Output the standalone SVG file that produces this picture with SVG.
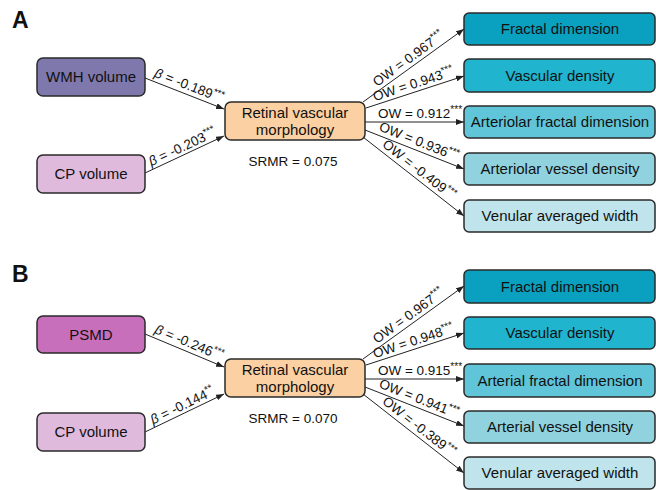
<svg xmlns="http://www.w3.org/2000/svg" width="656" height="490" viewBox="0 0 656 490">
<defs>
<marker id="arr" markerUnits="userSpaceOnUse" markerWidth="8" markerHeight="6" refX="8" refY="3" orient="auto">
<path d="M0,0 L8,3 L0,6 z" fill="#222"/>
</marker>
<style>
text{font-family:"Liberation Sans",Arial,sans-serif;fill:#111;}
.box{stroke:#2a2a2a;stroke-width:1.5;}
.lbl{font-size:15px;text-anchor:middle;}
.el{font-size:13.5px;text-anchor:middle;}
.st{font-size:10px;}
.pl{font-size:23px;font-weight:bold;}
.cn{stroke:#222;stroke-width:1;fill:none;marker-end:url(#arr);}
</style>
</defs>
<rect width="656" height="490" fill="#fff"/>

<g id="panelA">
<text class="pl" x="12" y="28">A</text>
<g id="A_conn">
<line class="cn" x1="145" y1="78" x2="224" y2="109"/>
<line class="cn" x1="145" y1="173" x2="224" y2="136"/>
<line class="cn" x1="363" y1="102" x2="464" y2="29"/>
<line class="cn" x1="366" y1="108" x2="464" y2="76"/>
<line class="cn" x1="365" y1="122" x2="464" y2="122"/>
<line class="cn" x1="365" y1="130" x2="464" y2="169"/>
<line class="cn" x1="363" y1="137" x2="464" y2="216"/>
<text class="el" transform="translate(186,93.5) rotate(21.4)" y="-4"><tspan font-style="italic">β</tspan> = -0.189<tspan class="st" dy="-5">***</tspan></text>
<text class="el" transform="translate(186,154.5) rotate(-25.1)" y="-4"><tspan font-style="italic">β</tspan> = -0.203<tspan class="st" dy="-5">***</tspan></text>
<text class="el" transform="translate(413.5,65.5) rotate(-35.9)" y="-4">OW = 0.967<tspan class="st" dy="-5">***</tspan></text>
<text class="el" transform="translate(416,92) rotate(-18.1)" y="-4">OW = 0.943<tspan class="st" dy="-5">***</tspan></text>
<text class="el" transform="translate(420,122)" y="-4">OW = 0.912<tspan class="st" dy="-5">***</tspan></text>
<text class="el" transform="translate(416,149.5) rotate(21.5)" y="-4">OW = 0.936<tspan class="st" dy="-5">***</tspan></text>
<text class="el" transform="translate(414,176.5) rotate(38)" y="-4">OW = -0.409<tspan class="st" dy="-5">***</tspan></text>
</g>
<g id="A_wmh"><rect class="box" x="37" y="58" width="108" height="38" rx="6" fill="#7f78ad"/><text class="lbl" x="91" y="82">WMH volume</text></g>
<g id="A_cp"><rect class="box" x="37" y="155" width="108" height="38" rx="6" fill="#dfbadd"/><text class="lbl" x="91" y="179">CP volume</text></g>
<g id="A_rvm"><rect class="box" x="225" y="102" width="140" height="38" rx="6" fill="#fbd0a2"/><text class="lbl" x="295" y="118">Retinal vascular</text><text class="lbl" x="295" y="135">morphology</text></g>
<text class="el" x="293" y="166">SRMR = 0.075</text>
<g id="A_fd"><rect class="box" x="464" y="13" width="191" height="32" rx="5" fill="#0aa0c0"/><text class="lbl" x="560" y="34">Fractal dimension</text></g>
<g id="A_vd"><rect class="box" x="464" y="59" width="191" height="33" rx="5" fill="#20b4cf"/><text class="lbl" x="560" y="80.5">Vascular density</text></g>
<g id="A_afd"><rect class="box" x="464" y="106" width="191" height="32" rx="5" fill="#60c5d8"/><text class="lbl" x="560" y="127">Arteriolar fractal dimension</text></g>
<g id="A_avd"><rect class="box" x="464" y="153" width="191" height="32" rx="5" fill="#90d3df"/><text class="lbl" x="560" y="174">Arteriolar vessel density</text></g>
<g id="A_vaw"><rect class="box" x="464" y="200" width="191" height="32" rx="5" fill="#bfe4ec"/><text class="lbl" x="560" y="221">Venular averaged width</text></g>
</g>

<g id="panelB" transform="translate(0,257)">
<text class="pl" x="12" y="25">B</text>
<g id="B_conn">
<line class="cn" x1="145" y1="77" x2="224" y2="110"/>
<line class="cn" x1="145" y1="175" x2="224" y2="137"/>
<line class="cn" x1="363" y1="102" x2="464" y2="29"/>
<line class="cn" x1="366" y1="108" x2="464" y2="76"/>
<line class="cn" x1="365" y1="122" x2="464" y2="122"/>
<line class="cn" x1="365" y1="130" x2="464" y2="169"/>
<line class="cn" x1="363" y1="137" x2="464" y2="216"/>
<text class="el" transform="translate(186,93.5) rotate(22.7)" y="-4"><tspan font-style="italic">β</tspan> = -0.246<tspan class="st" dy="-5">***</tspan></text>
<text class="el" transform="translate(186,156) rotate(-25.7)" y="-4"><tspan font-style="italic">β</tspan> = -0.144<tspan class="st" dy="-5">**</tspan></text>
<text class="el" transform="translate(413.5,65.5) rotate(-35.9)" y="-4">OW = 0.967<tspan class="st" dy="-5">***</tspan></text>
<text class="el" transform="translate(416,92) rotate(-18.1)" y="-4">OW = 0.948<tspan class="st" dy="-5">***</tspan></text>
<text class="el" transform="translate(420,122)" y="-4">OW = 0.915<tspan class="st" dy="-5">***</tspan></text>
<text class="el" transform="translate(416,149.5) rotate(21.5)" y="-4">OW = 0.941<tspan class="st" dy="-5">***</tspan></text>
<text class="el" transform="translate(414,176.5) rotate(38)" y="-4">OW = -0.389<tspan class="st" dy="-5">***</tspan></text>
</g>
<g id="B_psmd"><rect class="box" x="37" y="59" width="108" height="37" rx="6" fill="#c86fbb"/><text class="lbl" x="91" y="82.5">PSMD</text></g>
<g id="B_cp"><rect class="box" x="37" y="156" width="108" height="38" rx="6" fill="#dfbadd"/><text class="lbl" x="91" y="180">CP volume</text></g>
<g id="B_rvm"><rect class="box" x="225" y="102" width="140" height="38" rx="6" fill="#fbd0a2"/><text class="lbl" x="295" y="118">Retinal vascular</text><text class="lbl" x="295" y="135">morphology</text></g>
<text class="el" x="293" y="166">SRMR = 0.070</text>
<g id="B_fd"><rect class="box" x="464" y="13" width="191" height="33" rx="5" fill="#0aa0c0"/><text class="lbl" x="560" y="34.5">Fractal dimension</text></g>
<g id="B_vd"><rect class="box" x="464" y="60" width="191" height="32" rx="5" fill="#20b4cf"/><text class="lbl" x="560" y="81">Vascular density</text></g>
<g id="B_afd"><rect class="box" x="464" y="107" width="191" height="33" rx="5" fill="#60c5d8"/><text class="lbl" x="560" y="128.5">Arterial fractal dimension</text></g>
<g id="B_avd"><rect class="box" x="464" y="154" width="191" height="32" rx="5" fill="#90d3df"/><text class="lbl" x="560" y="175">Arterial vessel density</text></g>
<g id="B_vaw"><rect class="box" x="464" y="200" width="191" height="32" rx="5" fill="#bfe4ec"/><text class="lbl" x="560" y="221">Venular averaged width</text></g>
</g>
</svg>
